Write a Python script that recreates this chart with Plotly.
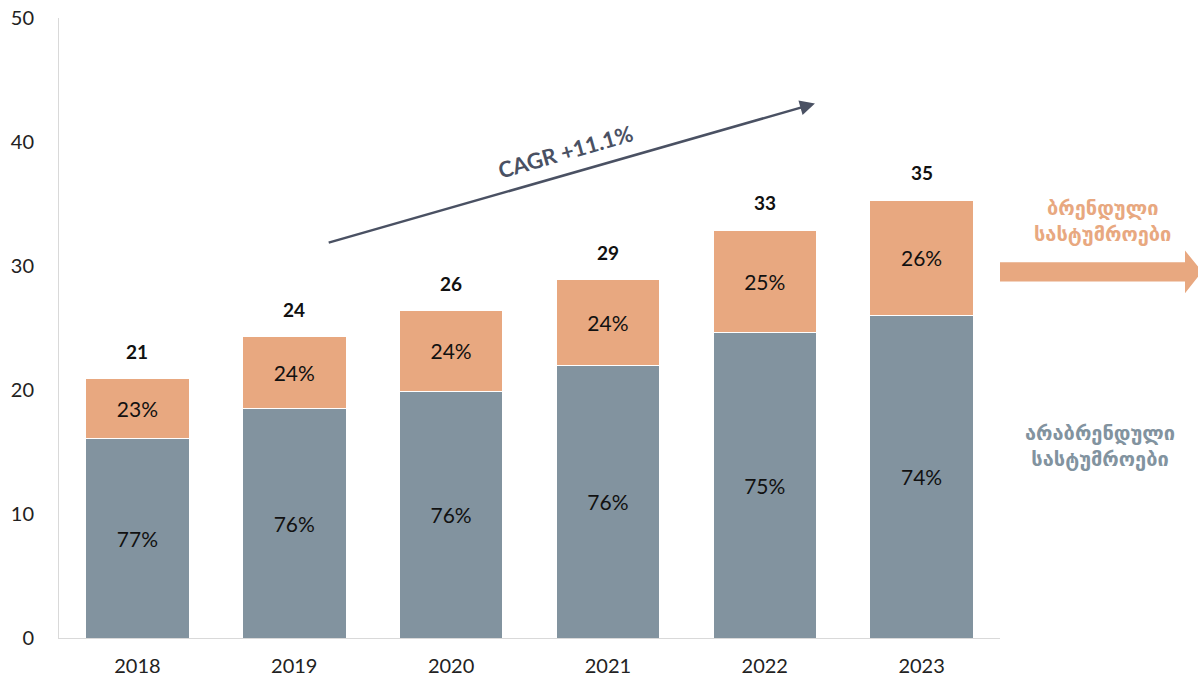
import plotly.graph_objects as go

years = ["2018", "2019", "2020", "2021", "2022", "2023"]
non_branded = [16.1, 18.5, 19.9, 22.0, 24.6, 26.0]
branded = [4.8, 5.8, 6.5, 6.9, 8.3, 9.3]
totals = ["21", "24", "26", "29", "33", "35"]
non_branded_pct = ["77%", "76%", "76%", "76%", "75%", "74%"]
branded_pct = ["23%", "24%", "24%", "24%", "25%", "26%"]

GRAY = "#82939f"
ORANGE = "#e8a880"
DARK = "#4a5163"
FONT = "Lato, 'Noto Sans', 'DejaVu Sans', sans-serif"

fig = go.Figure()

fig.add_trace(go.Bar(
    x=years, y=non_branded, text=non_branded_pct,
    marker=dict(color=GRAY, line=dict(color="white", width=1)),
    textposition="inside", insidetextanchor="middle",
    textfont=dict(color="#111111", size=21, family=FONT),
    name="non-branded",
))
fig.add_trace(go.Bar(
    x=years, y=branded, text=branded_pct,
    marker=dict(color=ORANGE, line=dict(color="white", width=1)),
    textposition="inside", insidetextanchor="middle",
    textfont=dict(color="#111111", size=21, family=FONT),
    name="branded",
))

# total labels above the bars (category index positions)
for i, (nb, b, t) in enumerate(zip(non_branded, branded, totals)):
    fig.add_annotation(
        x=i, y=nb + b, text=f"<b>{t}</b>", showarrow=False,
        yanchor="bottom", yshift=14,
        font=dict(size=19, color="#111111", family=FONT),
    )

# CAGR arrow
fig.add_annotation(
    x=4.32, y=43.1, ax=1.21, ay=31.85, xref="x", yref="y", axref="x", ayref="y",
    showarrow=True, arrowhead=2, arrowsize=1.2, arrowwidth=2.5, arrowcolor=DARK, text="",
)
fig.add_annotation(
    x=2.73, y=39.2, xref="x", yref="y", text="<b>CAGR +11.1%</b>", showarrow=False,
    textangle=-16, font=dict(size=22, color=DARK, family=FONT),
)

# right side legend-like arrow and labels
fig.add_shape(
    type="path", xref="paper", yref="paper",
    path="M 1.0 0.575 L 1.1966 0.575 L 1.1966 0.556 L 1.2147 0.591 L 1.1966 0.625 L 1.1966 0.606 L 1.0 0.606 Z",
    fillcolor=ORANGE, line=dict(width=0),
)
fig.add_annotation(
    x=1.109, y=0.674, xref="paper", yref="paper", showarrow=False,
    xanchor="center", yanchor="middle",
    text="<b>ბრენდული<br>სასტუმროები</b>", align="center",
    font=dict(size=20, color=ORANGE, family=FONT),
)
fig.add_annotation(
    x=1.106, y=0.311, xref="paper", yref="paper", showarrow=False,
    xanchor="center", yanchor="middle",
    text="<b>არაბრენდული<br>სასტუმროები</b>", align="center",
    font=dict(size=20, color=GRAY, family=FONT),
)

fig.update_layout(
    barmode="stack",
    bargap=0.34,
    showlegend=False,
    width=1198, height=680,
    margin=dict(l=59, r=198, t=18, b=42, autoexpand=False),
    plot_bgcolor="white", paper_bgcolor="white",
    font=dict(family=FONT, size=20, color="#222222"),
)
fig.update_yaxes(
    range=[0, 50], dtick=10, showgrid=False, zeroline=False, automargin=False,
    showline=True, linecolor="#d9d9d9", linewidth=1,
    ticks="", ticklabelstandoff=20, tickfont=dict(size=20, color="#222222"),
)
fig.update_xaxes(
    type="category", range=[-0.5, 5.5], showgrid=False, showline=True,
    linecolor="#d9d9d9", linewidth=1, ticklabelstandoff=10,
    automargin=False, ticks="", tickfont=dict(size=20, color="#222222"),
)

fig.write_html("out.html", config={"displayModeBar": False},
               post_script="document.body.style.margin='0px';")
